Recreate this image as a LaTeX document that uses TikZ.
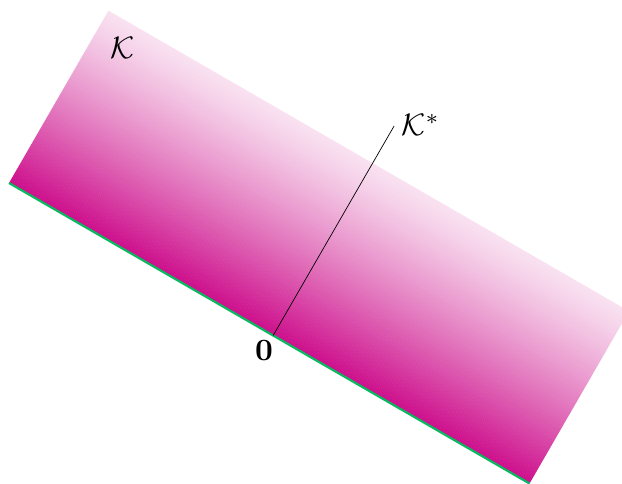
\documentclass[tikz,border=0pt]{standalone}
\definecolor{bandcol}{RGB}{205,15,140}
\definecolor{edgecol}{RGB}{10,185,95}
\begin{document}
\begin{tikzpicture}[x=1pt,y=1pt,
  lab/.style={inner sep=0pt, scale=3.1}]
\useasboundingbox (0,0) rectangle (622,483);
\clip (0,0) rectangle (622,483);
\begin{scope}[shift={(9,300)}, rotate=-30]
  \foreach \i [evaluate=\i as \p using {12+88*(1-\i/100)^1.2}] in {0,...,99}
    \fill[bandcol!\p] (0,{\i*1.99}) rectangle (601,{min(\i*1.99+2.3,199)});
  \coordinate (A) at (0,0);
  \coordinate (B) at (601,0);
  \coordinate (O) at (305,0);
  \coordinate (E) at (305,242);
\end{scope}
\draw[edgecol, line width=2.2pt] (A) -- (B);
\draw[line width=0.7pt] (O) -- (E);
\node[lab] (k) at (123,435) {$\mathcal{K}$};
\node[lab, anchor=base west] (ks) at (401,347) {$\mathcal{K}^*$};
\node[lab] (zero) at (264,132) {$\mathbf{0}$};
\end{tikzpicture}
\end{document}
